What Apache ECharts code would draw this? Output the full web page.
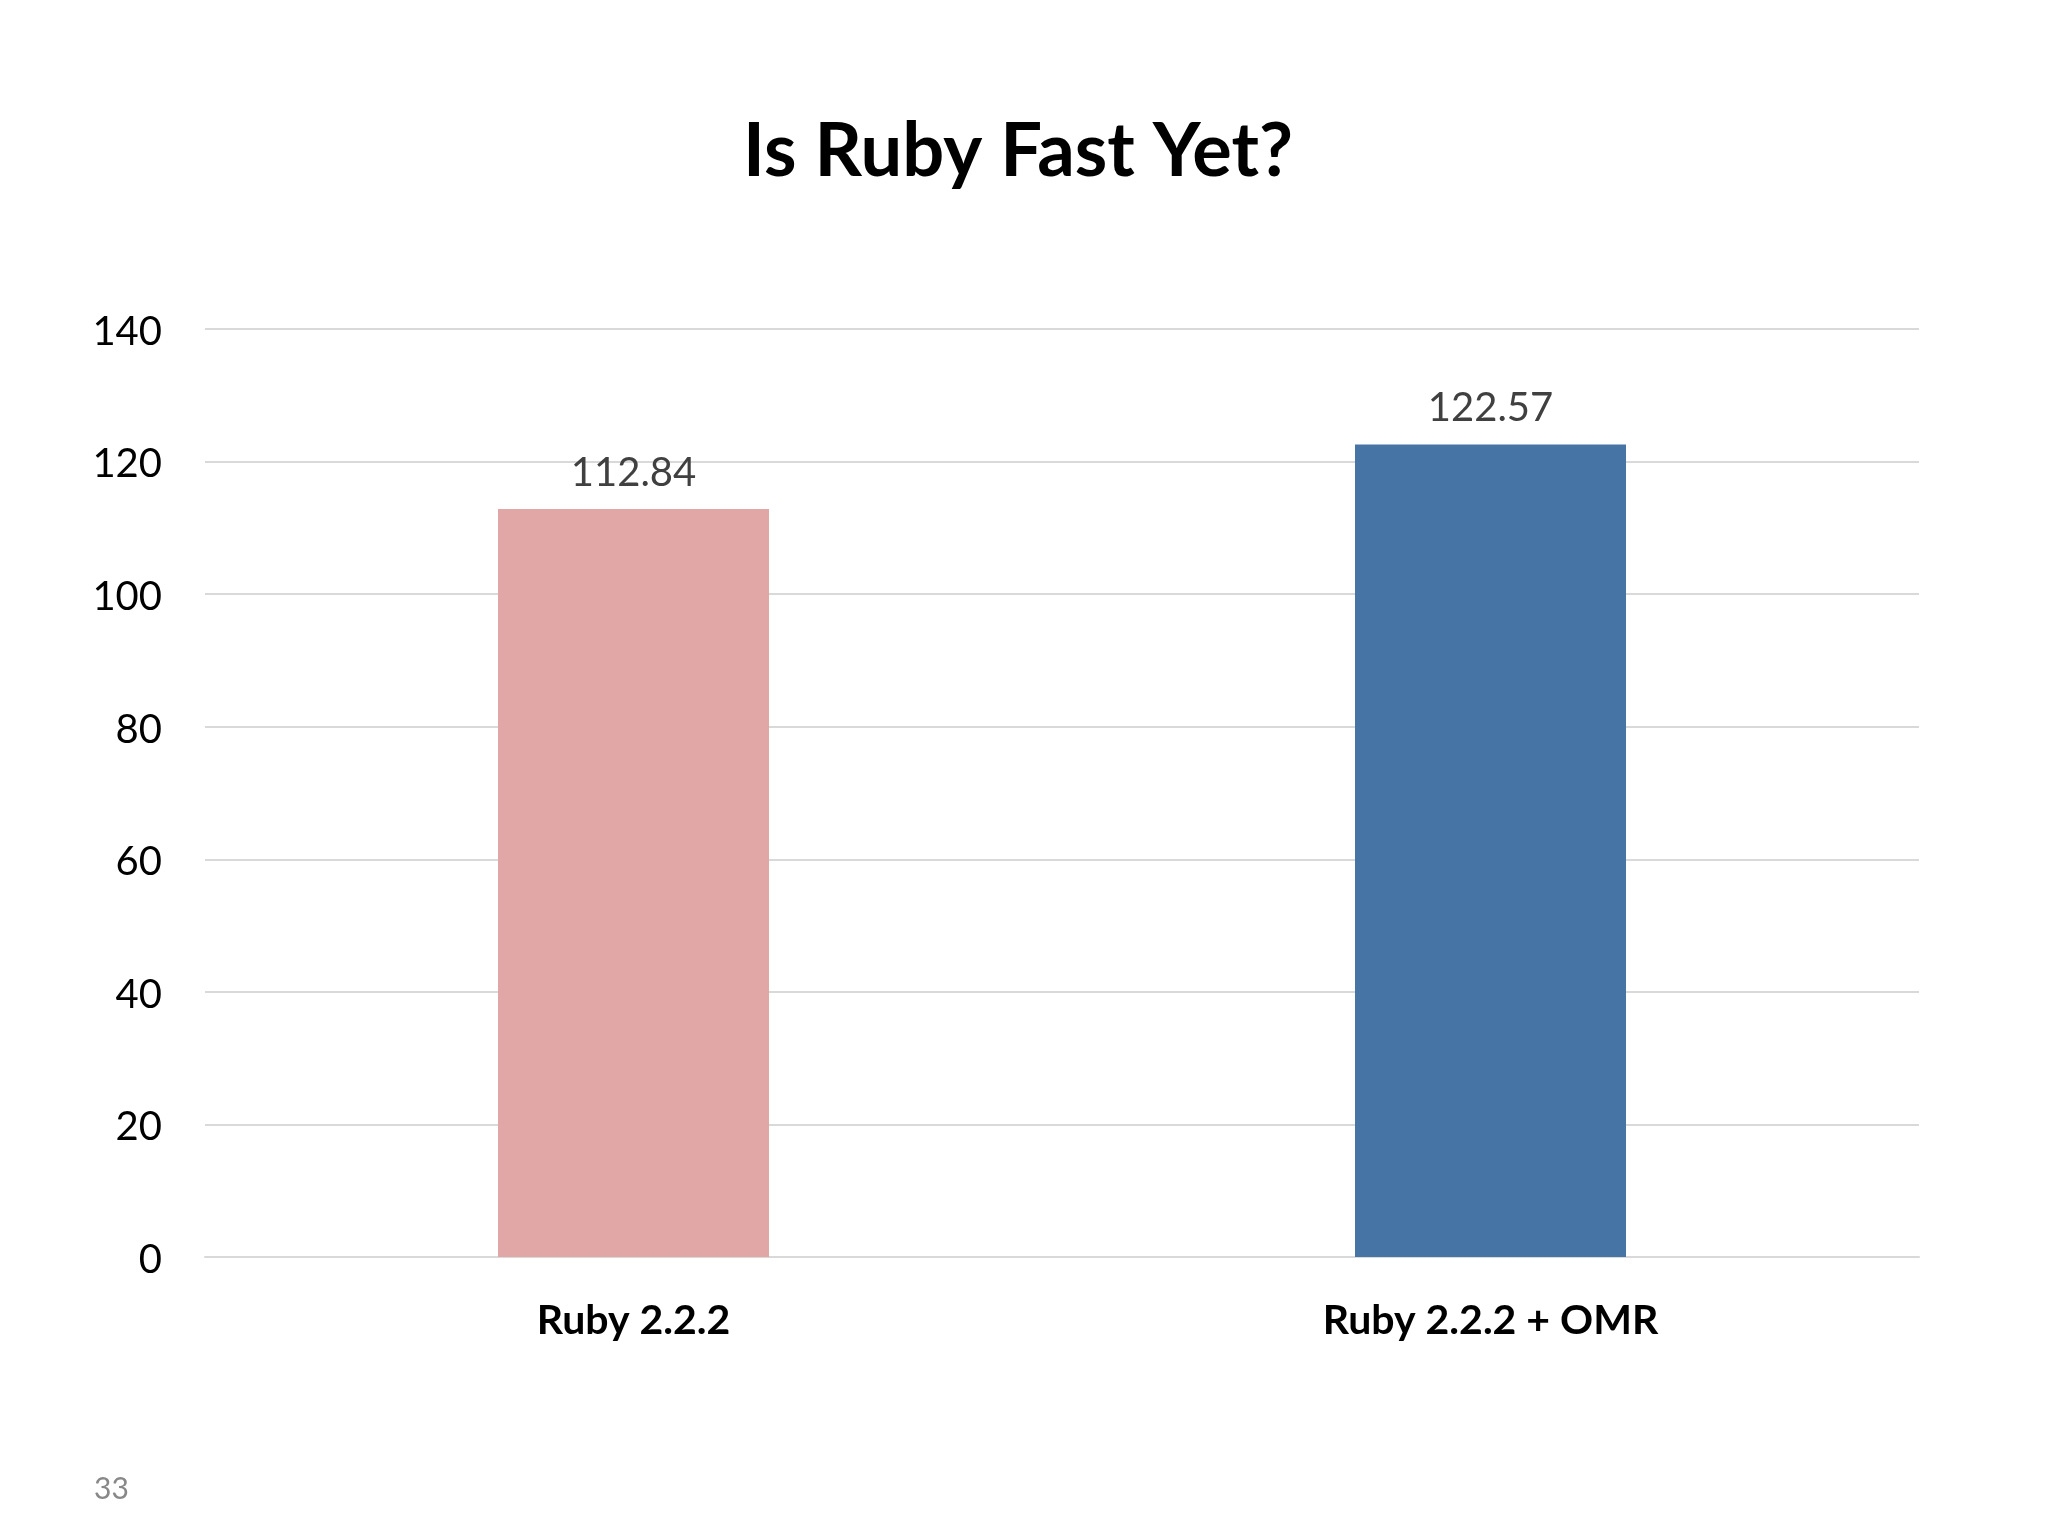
<!DOCTYPE html>
<html>
<head>
<meta charset="utf-8">
<script src="https://cdn.jsdelivr.net/npm/echarts@6/dist/echarts.min.js"></script>
<style>
html,body{margin:0;padding:0;background:#fff;}
#chart{width:2048px;height:1536px;}
</style>
</head>
<body>
<div id="chart"></div>
<script>
var titleText = 'Is Ruby Fast Yet?';
var categories = ['Ruby 2.2.2', 'Ruby 2.2.2 + OMR'];
var values = [112.84, 122.57];
var barColors = ['#e0a7a6', '#4674a4'];
var yMin = 0, yMax = 140, yInterval = 20;
var pageNumber = '33';

var FONT = 'Lato, "Open Sans", sans-serif';
var chart = echarts.init(document.getElementById('chart'));
chart.setOption({
  backgroundColor: '#ffffff',
  animation: false,
  title: {
    text: titleText,
    left: 1013,
    textAlign: 'center',
    top: 110,
    textStyle: { fontFamily: FONT, fontWeight: 'bold', fontSize: 74, color: '#000000' }
  },
  graphic: [{
    type: 'text',
    left: 94,
    top: 1474,
    style: { text: pageNumber, fontFamily: FONT, fontSize: 30, fill: '#888888' }
  }],
  grid: { left: 205, right: 129, top: 329, bottom: 279, containLabel: false },
  xAxis: {
    type: 'category',
    data: categories,
    axisLine: { show: true, lineStyle: { color: '#d9d9d9', width: 2 } },
    axisTick: { show: false },
    axisLabel: { fontFamily: FONT, fontWeight: 'bold', fontSize: 41, color: '#000000', margin: 43 }
  },
  yAxis: {
    type: 'value',
    min: yMin, max: yMax, interval: yInterval,
    axisLine: { show: false },
    axisTick: { show: false },
    splitLine: { lineStyle: { color: '#d9d9d9', width: 2 } },
    axisLabel: { fontFamily: FONT, fontSize: 40, color: '#000000', margin: 43, verticalAlign: 'top', padding: [-17, 0, 0, 0] }
  },
  series: [{
    type: 'bar',
    data: values.map(function (v, i) { return { value: v, itemStyle: { color: barColors[i] } }; }),
    barWidth: 271,
    label: {
      show: true, position: 'top', distance: 16,
      fontFamily: FONT, fontSize: 40, color: '#404040',
      formatter: function (p) { return p.value.toFixed(2); }
    }
  }]
});
</script>
</body>
</html>
